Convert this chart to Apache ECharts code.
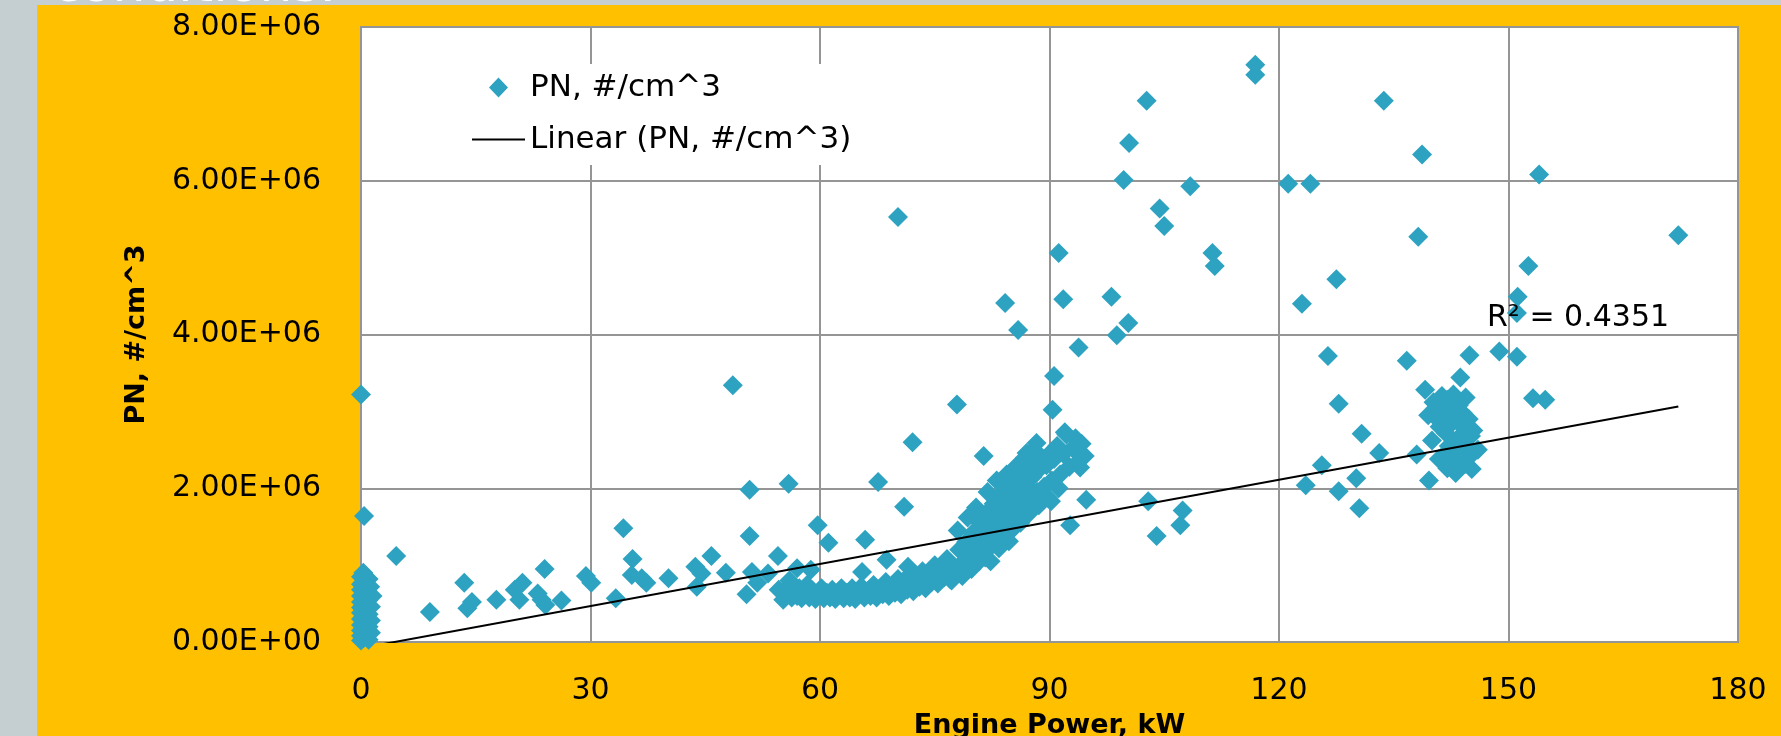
<!DOCTYPE html>
<html>
<head>
<meta charset="utf-8">
<script src="https://cdn.jsdelivr.net/npm/echarts@6/dist/echarts.min.js"></script>
<style>
html,body{margin:0;padding:0;background:#c5ced1;}
#chart{width:1781px;height:736px;}
</style>
</head>
<body>
<div id="chart"></div>
<script>
// ---- Data (Engine Power kW, PN #/cm^3) ----
// idle cluster near 0 kW
const idleKW = [0,0,0,0,0,0,0,0,0,0,0,0,0.3,0.3,0.3,0.3,0.3,0.3,0.3,0.6,0.6,0.6,0.6,0.6,1.0,1.0,1.0,1.0,1.0,1.3,1.3,1.3,1.5,1.2,0,0.4];
const idlePN = [0.02e6,0.08e6,0.15e6,0.22e6,0.30e6,0.38e6,0.45e6,0.52e6,0.60e6,0.68e6,0.75e6,0.85e6,0.05e6,0.18e6,0.33e6,0.48e6,0.62e6,0.78e6,0.90e6,0.10e6,0.26e6,0.41e6,0.57e6,0.70e6,0.03e6,0.20e6,0.36e6,0.55e6,0.82e6,0.12e6,0.28e6,0.46e6,0.60e6,0.72e6,3.22e6,1.64e6];

// low / part load scattered points
const lowKW = [4.6,9.0,13.5,13.9,14.5,17.7,20.1,21.1,20.7,23.1,23.6,24.1,24.0,26.2,29.4,30.1,33.3,34.3,35.5,35.4,36.7,37.3,40.2,43.7,43.9,44.5,45.8,47.7,48.6,50.8,50.8,50.4,51.1,51.8,53.2,54.5,55.9,57.0,59.7,61.1,58.8,65.5,68.7,71.5];
const lowPN = [1.12e6,0.39e6,0.77e6,0.44e6,0.52e6,0.55e6,0.68e6,0.77e6,0.55e6,0.63e6,0.55e6,0.48e6,0.95e6,0.54e6,0.86e6,0.77e6,0.57e6,1.48e6,1.08e6,0.87e6,0.83e6,0.77e6,0.83e6,0.98e6,0.72e6,0.89e6,1.12e6,0.90e6,3.34e6,1.98e6,1.38e6,0.62e6,0.91e6,0.77e6,0.89e6,1.12e6,2.06e6,0.96e6,1.52e6,1.29e6,0.94e6,0.91e6,1.07e6,0.98e6];

// dense rising band 54-95 kW
const bandKW = [54.6,55.2,55.5,55.8,56.0,56.3,56.6,57.0,57.3,57.6,58.0,58.3,58.6,59.0,59.4,59.8,60.2,60.5,60.9,61.3,61.6,62.0,62.4,62.8,63.1,63.5,63.9,64.2,64.6,65.0,65.4,65.8,66.2,66.6,67.0,67.4,67.8,68.2,68.6,69.0,69.4,69.8,70.2,70.6,71.0,71.4,71.8,72.2,72.6,73.0,73.4,73.8,74.2,74.6,75.0,75.4,75.8,76.2,76.6,77.0,77.4,77.8,78.2,78.5,78.8,79.1,79.4,79.7,80.0,80.3,80.6,80.9,81.2,81.5,81.8,82.1,82.4,82.7,83.0,83.3,83.6,83.9,84.2,84.5,84.8,85.1,85.4,85.7,86.0,86.3,86.6,86.9,87.2,87.5,87.8,88.1,88.4,88.7,89.0,89.3,89.6,90.0,90.3,90.6,91.0,91.4,91.8,92.2,92.6,93.0,93.4,93.8,94.2,94.6];
const bandPN = [0.68e6,0.55e6,0.62e6,0.72e6,0.80e6,0.58e6,0.66e6,0.60e6,0.70e6,0.57e6,0.64e6,0.74e6,0.58e6,0.67e6,0.56e6,0.62e6,0.70e6,0.57e6,0.64e6,0.58e6,0.68e6,0.56e6,0.62e6,0.70e6,0.57e6,0.64e6,0.58e6,0.70e6,0.56e6,0.63e6,0.72e6,0.58e6,0.66e6,0.60e6,0.74e6,0.58e6,0.68e6,0.62e6,0.78e6,0.60e6,0.70e6,0.64e6,0.82e6,0.62e6,0.74e6,0.68e6,0.88e6,0.66e6,0.78e6,0.72e6,0.92e6,0.70e6,0.84e6,0.78e6,1.00e6,0.76e6,0.90e6,0.84e6,1.08e6,0.82e6,0.98e6,0.92e6,1.20e6,0.88e6,1.05e6,1.30e6,0.96e6,1.15e6,1.42e6,1.02e6,1.25e6,1.55e6,1.12e6,1.38e6,1.68e6,1.22e6,1.50e6,1.80e6,1.35e6,1.62e6,1.92e6,1.48e6,1.75e6,2.00e6,1.58e6,1.85e6,2.10e6,1.68e6,1.95e6,2.20e6,1.78e6,2.05e6,2.25e6,1.88e6,2.15e6,2.32e6,1.95e6,2.25e6,2.38e6,2.02e6,2.30e6,2.45e6,2.10e6,2.38e6,2.55e6,2.18e6,2.45e6,2.70e6,2.28e6,2.52e6,2.65e6,2.35e6,2.58e6,2.42e6];

// band edge points (wider spread, 77-92 kW)
const edgeKW = [77.2,78.6,79.8,80.8,81.6,82.3,83.4,84.0,85.0,86.2,87.4,88.6,89.8,91.2,78.0,79.3,80.4,81.9,83.1,84.4,85.6,86.8,88.0];
const edgePN = [0.80e6,0.86e6,0.95e6,1.05e6,1.10e6,1.05e6,1.22e6,1.35e6,1.45e6,1.55e6,1.68e6,1.78e6,1.88e6,2.00e6,1.45e6,1.62e6,1.75e6,1.95e6,2.10e6,2.18e6,2.28e6,2.40e6,2.50e6];

// high-PN scattered points
const highKW = [65.9,67.6,70.2,71.0,72.1,77.9,81.4,84.2,84.7,85.9,87.0,88.3,90.2,90.4,90.6,91.2,91.8,92.0,92.7,93.8,93.8,94.0,94.8,98.1,98.8,99.7,100.3,100.4,102.7,102.9,104.0,104.4,105.0,107.1,107.4,108.4,111.3,111.6,116.9,116.9,121.2,123.0,123.5,124.1,125.6,126.4,127.5,127.8,127.8,130.1,130.5,130.8,133.1,133.7,136.7,138.0,138.2,138.7,139.1,139.6,143.7,144.9,148.8,151.1,151.1,151.2,152.6,153.2,154.0,154.8,172.2];
const highPN = [1.33e6,2.08e6,5.53e6,1.76e6,2.60e6,3.09e6,2.42e6,4.41e6,1.31e6,4.06e6,2.46e6,2.59e6,1.83e6,3.02e6,3.46e6,5.06e6,4.46e6,2.73e6,1.52e6,3.83e6,2.59e6,2.27e6,1.85e6,4.49e6,3.99e6,6.01e6,4.15e6,6.49e6,7.04e6,1.83e6,1.38e6,5.64e6,5.41e6,1.52e6,1.71e6,5.93e6,5.06e6,4.89e6,7.51e6,7.38e6,5.96e6,4.40e6,2.04e6,5.96e6,2.30e6,3.72e6,4.72e6,3.10e6,1.96e6,2.13e6,1.74e6,2.71e6,2.46e6,7.04e6,3.66e6,2.44e6,5.27e6,6.34e6,3.28e6,2.10e6,3.44e6,3.73e6,3.78e6,3.71e6,4.28e6,4.49e6,4.89e6,3.17e6,6.08e6,3.15e6,5.29e6];

// cluster around 140-146 kW
const clusterKW = [140.2,140.8,141.3,141.6,142.0,142.4,142.8,143.2,143.5,144.0,144.4,141.0,141.8,142.6,143.4,144.2,144.8,140.5,142.2,143.0,143.8,144.6,145.1,142.7,143.6,144.4,145.0,141.7,140.9,142.0,143.1,145.2,144.0,145.4,146.0,140.0,139.5];
const clusterPN = [3.12e6,3.05e6,3.20e6,2.95e6,3.15e6,3.02e6,3.22e6,2.90e6,3.08e6,2.98e6,3.18e6,2.80e6,2.72e6,2.85e6,2.65e6,2.78e6,2.90e6,2.92e6,2.55e6,2.48e6,2.40e6,2.55e6,2.68e6,2.35e6,2.28e6,2.32e6,2.42e6,2.45e6,2.38e6,2.26e6,2.20e6,2.25e6,2.62e6,2.75e6,2.50e6,2.62e6,2.95e6];

// linear trendline endpoints (x from min to max of data)
const trendKW = [0, 172.2];
const trendPN = [-0.0801e6, 3.063e6];
const rSquaredText = 'R² = 0.4351';

// axis ticks
const xTicks = {min: 0, max: 180, interval: 30};
const yTicks = {min: 0, max: 8e6, interval: 2e6};

const seriesName = 'PN, #/cm^3';
const trendName = 'Linear (PN, #/cm^3)';
const xTitle = 'Engine Power, kW';
const yTitle = 'PN, #/cm^3';

// ---- build ----
function pairs(xs, ys){ return xs.map((x,i)=>[x, ys[i]]); }
const scatterData = [].concat(
  pairs(idleKW, idlePN), pairs(lowKW, lowPN), pairs(bandKW, bandPN),
  pairs(edgeKW, edgePN), pairs(highKW, highPN), pairs(clusterKW, clusterPN));
const trendData = pairs(trendKW, trendPN);

function sci(v){
  if (v === 0) return '0.00E+00';
  const e = Math.floor(Math.log10(Math.abs(v)));
  const m = v / Math.pow(10, e);
  return m.toFixed(2) + 'E' + (e < 0 ? '-' : '+') + String(Math.abs(e)).padStart(2, '0');
}

const FONT = 'DejaVu Sans';
const chart = echarts.init(document.getElementById('chart'), null, {renderer: 'canvas'});
chart.setOption({
  backgroundColor: '#c5ced1',
  animation: false,
  graphic: [
    {type: 'text', left: 52, top: -39, z: -3, silent: true,
     style: {text: 'conditions.', fill: '#ffffff', font: '52px "DejaVu Sans"'}},
    {type: 'rect', shape: {x: 37, y: 5, width: 1744, height: 731}, z: -2, silent: true,
     style: {fill: '#ffc000'}},
    {type: 'text', x: 1487, y: 318, z: 50, silent: true,
     style: {text: rSquaredText, fill: '#000', font: '30px "DejaVu Sans"', textVerticalAlign: 'middle'}}
  ],
  grid: {
    left: 361, top: 27, width: 1377, height: 615,
    outerBoundsMode: 'none', containLabel: false,
    show: true, backgroundColor: '#ffffff', borderColor: '#959595', borderWidth: 2
  },
  legend: {
    left: 462, top: 64, orient: 'vertical',
    padding: [8, 10, 10, 10], itemGap: 21,
    itemWidth: 53, itemHeight: 20,
    backgroundColor: '#ffffff',
    textStyle: {fontSize: 31, lineHeight: 31, color: '#000', fontFamily: FONT},
    data: [
      {name: seriesName, icon: 'path://M0 10L0.01 10L0 10.01Z M26.5 0L36 10L26.5 20L17 10Z M53 10L52.99 10L53 10.01Z'},
      {name: trendName, icon: 'path://M0 0H53V2H0Z'}
    ]
  },
  xAxis: {
    type: 'value', min: xTicks.min, max: xTicks.max, interval: xTicks.interval,
    name: xTitle, nameLocation: 'middle', nameGap: 70,
    nameTextStyle: {fontSize: 27, fontWeight: 'bold', color: '#000', fontFamily: FONT},
    axisLine: {show: true, lineStyle: {color: '#959595', width: 2}},
    axisTick: {show: false},
    axisLabel: {fontSize: 30, color: '#000', margin: 34, fontFamily: FONT},
    splitLine: {show: true, lineStyle: {color: '#959595', width: 2}}
  },
  yAxis: {
    type: 'value', min: yTicks.min, max: yTicks.max, interval: yTicks.interval,
    name: yTitle, nameLocation: 'middle', nameGap: 211,
    nameTextStyle: {fontSize: 27, fontWeight: 'bold', color: '#000', fontFamily: FONT},
    axisLine: {show: true, lineStyle: {color: '#959595', width: 2}},
    axisTick: {show: false},
    axisLabel: {fontSize: 30, color: '#000', margin: 40, fontFamily: FONT, formatter: sci},
    splitLine: {show: true, lineStyle: {color: '#959595', width: 2}}
  },
  series: [
    {
      name: seriesName, type: 'scatter', data: scatterData,
      symbol: 'diamond', symbolSize: 20,
      itemStyle: {color: '#2ea3c1', opacity: 1},
      clip: false, z: 3
    },
    {
      name: trendName, type: 'line', data: trendData,
      showSymbol: false, symbol: 'none', clip: true,
      itemStyle: {color: '#000'},
      lineStyle: {color: '#000', width: 2}, z: 4
    }
  ]
});
</script>
</body>
</html>
